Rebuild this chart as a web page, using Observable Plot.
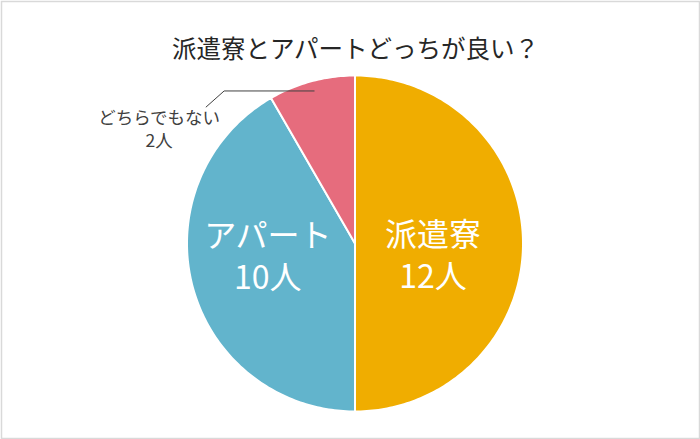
<!DOCTYPE html>
<html><head><meta charset="utf-8">
<script src="https://cdn.jsdelivr.net/npm/d3@7"></script>
<script src="https://cdn.jsdelivr.net/npm/@observablehq/plot@0.6"></script>
<style>
html,body{margin:0;padding:0;background:#fff;}
#chart svg{display:block;font-family:"Noto Sans CJK JP","Noto Sans",sans-serif;}
</style>
</head><body><div id="chart"></div>
<script>
const title = "派遣寮とアパートどっちが良い？";
const categories = ["派遣寮", "アパート", "どちらでもない"];
const values = [12, 10, 2];
const unit = "人";
const colors = ["#F0AD00", "#62B4CC", "#E66C7D"];

const W = 700, H = 439, cx = 354.5, cy = 243, R = 168;
const slices = d3.pie().sort(null).value(d => d.value)(
  categories.map((name, i) => ({name, value: values[i]}))
);
const pt = (a, r) => ({x: r * Math.sin(a), y: r * Math.cos(a)});

const poly = [];
for (const s of slices) {
  const n = Math.max(2, Math.ceil((s.endAngle - s.startAngle) / (Math.PI / 180)));
  poly.push({name: s.data.name, ...pt(0, 0)});
  for (let k = 0; k <= n; k++) {
    const a = s.startAngle + (s.endAngle - s.startAngle) * k / n;
    poly.push({name: s.data.name, ...pt(a, 1)});
  }
  poly.push({name: s.data.name, ...pt(0, 0)});
}
const mid = s => (s.startAngle + s.endAngle) / 2;
const px = 1 / R; // data units per pixel

// inside labels
const inside = slices.slice(0, 2).map((s, i) => {
  const p = pt(mid(s), 0.5);
  const off = i === 0 ? [-6, 10] : [-6, -11];
  return {label: `${s.data.name}\n${s.data.value}${unit}`, x: p.x + off[0] * px, y: p.y - off[1] * px};
});

// outside label with leader
const small = slices[2];
const e = pt(mid(small), 0.94);
const elbow = {x: e.x - 90 * px, y: e.y};
const tail = {x: elbow.x - 18 * px, y: elbow.y - 16 * px};
const leader = [e, elbow, tail];
const outside = [{label: `${small.data.name}\n${small.data.value}${unit}`, x: tail.x - 47 * px, y: tail.y - 21 * px}];

const chart = Plot.plot({
  width: W, height: H, margin: 0,
  x: {domain: [-1, 1], range: [cx - R, cx + R], axis: null},
  y: {domain: [-1, 1], range: [cy + R, cy - R], axis: null},
  color: {domain: categories, range: colors},
  marks: [
    Plot.frame({stroke: "#d9d9d9", strokeWidth: 1.5, inset: 1}),
    Plot.line(poly, {x: "x", y: "y", z: "name", fill: "name", stroke: "white", strokeWidth: 2, strokeLinejoin: "round", curve: "linear"}),
    Plot.line(leader, {x: "x", y: "y", stroke: "#404040", strokeWidth: 1}),
    Plot.text(inside, {x: "x", y: "y", text: "label", fill: "white", fontSize: 32, lineHeight: 1.33}),
    Plot.text(outside, {x: "x", y: "y", text: "label", fill: "#404040", fontSize: 17.5, lineHeight: 1.35}),
    Plot.text([title], {frameAnchor: "top", dy: 40, dx: 5, text: d => d, fill: "#262626", fontSize: 24.5})
  ]
});
document.getElementById("chart").appendChild(chart);
</script>
</body></html>
